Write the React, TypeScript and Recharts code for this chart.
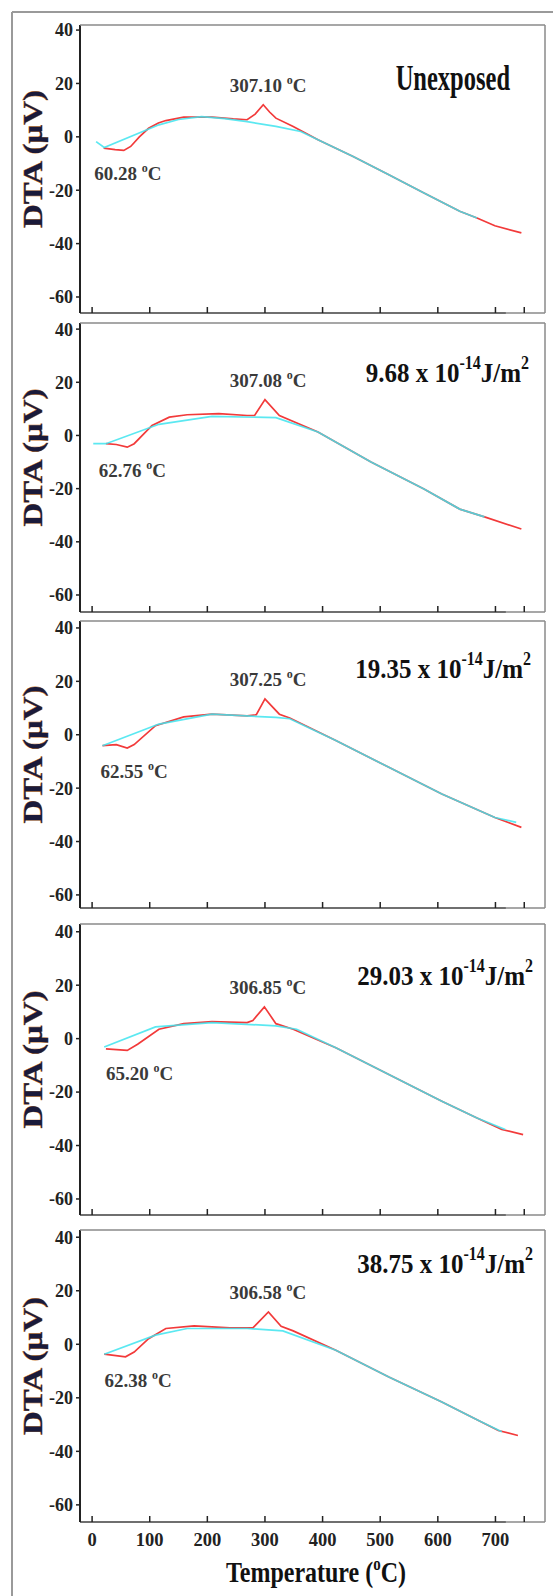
import React from "react";
import { LineChart, Line, XAxis, YAxis, ReferenceDot, ReferenceLine } from "recharts";

const SERIF = "'Liberation Serif', 'Times New Roman', serif";

// [temperature °C, DTA µV]
const unexposedSample = [[20, -4.2], [40, -4.8], [55, -5.1], [67, -3.6], [82, 0], [98, 3.2], [115, 5.2], [128, 6.1], [159, 7.4], [208, 7.4], [245, 6.7], [269, 6.4], [283, 8.5], [297, 12.0], [308, 9.3], [319, 7.0], [349, 3.9], [392, -1.1], [453, -7.4], [515, -14.2], [576, -21], [638, -27.9], [668, -30.4], [699, -33.3], [745, -36.0]];
const unexposedBase = [[7, -1.8], [21, -4.0], [116, 4.5], [150, 6.5], [190, 7.6], [230, 6.8], [269, 5.7], [319, 3.9], [362, 2.0], [392, -1.1], [453, -7.4], [515, -14.2], [576, -21], [638, -27.9], [668, -30.4]];

const dose968Sample = [[24, -3.1], [42, -3.4], [61, -4.4], [73, -3.1], [104, 3.8], [134, 6.9], [165, 7.8], [220, 8.2], [269, 7.5], [282, 7.5], [300, 13.5], [325, 7.5], [392, 1.3], [484, -10], [576, -20.1], [638, -27.7], [681, -30.6], [745, -35.2]];
const dose968Base = [[2, -3.1], [24, -3.1], [116, 4.2], [208, 7.2], [319, 6.7], [392, 1.3], [484, -10], [576, -20.1], [638, -27.7], [681, -30.6]];

const dose1935Sample = [[18, -4.1], [42, -3.7], [61, -5.0], [73, -3.7], [110, 3.4], [159, 6.7], [208, 7.7], [269, 7.1], [285, 7.5], [300, 13.4], [325, 7.7], [343, 6.3], [423, -2.2], [515, -12.2], [607, -22.2], [699, -31], [745, -34.7]];
const dose1935Base = [[18, -4.1], [116, 4.0], [208, 7.7], [319, 6.5], [343, 6.0], [423, -2.2], [515, -12.2], [607, -22.2], [699, -31], [736, -32.8]];

const dose2903Sample = [[24, -3.8], [61, -4.4], [79, -2.1], [116, 3.5], [159, 5.6], [208, 6.4], [269, 6.0], [279, 6.8], [299, 11.9], [319, 5.6], [349, 3.5], [423, -3.4], [515, -13.4], [607, -23.4], [668, -29.7], [711, -34], [748, -35.9]];
const dose2903Base = [[21, -3.1], [110, 4.4], [208, 6.0], [319, 4.8], [355, 3.5], [423, -3.4], [515, -13.4], [607, -23.4], [668, -29.7], [717, -34]];

const dose3875Sample = [[21, -3.7], [58, -4.7], [73, -2.9], [98, 2.1], [128, 5.9], [177, 6.9], [239, 6.1], [279, 6.1], [306, 12.1], [328, 6.7], [349, 5.0], [423, -2.2], [515, -12.2], [607, -21.6], [668, -28.2], [705, -32.2], [739, -34.1]];
const dose3875Base = [[21, -3.7], [110, 3.4], [165, 5.9], [269, 5.9], [331, 5.0], [423, -2.2], [515, -12.2], [607, -21.6], [668, -28.2], [711, -32.7]];

const titles = ["Unexposed", "9.68", "19.35", "29.03", "38.75"];
const peakTemps = ["307.10", "307.08", "307.25", "306.85", "306.58"];
const peakDta = [12.0, 13.5, 13.4, 11.9, 12.1];
const dipTemps = ["60.28", "62.76", "62.55", "65.20", "62.38"];
const dipDta = [-5.1, -4.4, -5.0, -4.4, -4.7];

const xTicks = [0, 100, 200, 300, 400, 500, 600, 700, 750];
const yTicks = [-60, -40, -20, 0, 20, 40];

const samples = [unexposedSample, dose968Sample, dose1935Sample, dose2903Sample, dose3875Sample];
const baselines = [unexposedBase, dose968Base, dose1935Base, dose2903Base, dose3875Base];

// plot box placement on the page
const layout = [
  { top: 25, bottom: 313, yMin: -66, yMax: 41.9, titleY: 65, titleX: 510, dipDx: 2 },
  { top: 323, bottom: 612, yMin: -66.4, yMax: 42.3, titleY: 59, titleX: 529, dipDx: 5 },
  { top: 621, bottom: 908, yMin: -64.9, yMax: 42.6, titleY: 57, titleX: 531, dipDx: 7 },
  { top: 924, bottom: 1215, yMin: -66, yMax: 42.9, titleY: 61, titleX: 533, dipDx: 11 },
  { top: 1230, bottom: 1522, yMin: -66.4, yMax: 42.7, titleY: 43, titleX: 533, dipDx: 11 },
];
const X_MIN = -21;
const X_MAX = 786;
const PLOT_LEFT = 80;
const PLOT_RIGHT = 545;
const W = 553;

const toPts = (arr: number[][]) => arr.map(([t, v]) => ({ t, v }));

function DegText({ x, y, value }: { x: number; y: number; value: string }) {
  return (
    <text x={x} y={y} textAnchor="middle" fontFamily={SERIF} fontSize={19} fontWeight="bold" fill="#3a3a3a">
      {value + " "}
      <tspan dy={-8} fontSize={12}>o</tspan>
      <tspan dy={8}>C</tspan>
    </text>
  );
}

function YTitle({ viewBox }: any) {
  const cy = viewBox.y + viewBox.height / 2 - 10;
  return (
    <text
      transform={`translate(33, ${cy}) rotate(-90) scale(1.22, 1)`}
      textAnchor="middle"
      dominantBaseline="central"
      fontFamily={SERIF}
      fontSize={27}
      fontWeight="bold"
      fill="#1a1a3a"
      stroke="#c8741e"
      strokeWidth={0.6}
      paintOrder="stroke"
    >
      DTA (μV)
    </text>
  );
}

function Panel({ i }: { i: number }) {
  const p = layout[i];
  const last = i === 4;
  const xAxisH = last ? 34 : 4;
  const plotH = p.bottom - p.top;
  return (
    <div style={{ position: "absolute", left: 0, top: p.top - 10 }}>
      <LineChart width={W} height={plotH + 10 + xAxisH} margin={{ top: 10, right: W - PLOT_RIGHT, bottom: 0, left: 0 }}>
        <XAxis
          type="number"
          dataKey="t"
          domain={[X_MIN, X_MAX]}
          ticks={xTicks}
          allowDataOverflow
          height={xAxisH}
          tickSize={-6}
          tickMargin={17}
          axisLine={{ stroke: "#8a8a8a", strokeWidth: 1.5 }}
          tickLine={{ stroke: "#222", strokeWidth: 1.5 }}
          tickFormatter={(v: number) => (v === 750 ? "" : String(v))}
          tick={last ? { fontSize: 18.5, fontWeight: "bold", fill: "#222", fontFamily: SERIF } : () => <g />}
        />
        <YAxis
          type="number"
          domain={[p.yMin, p.yMax]}
          ticks={yTicks}
          allowDataOverflow
          width={PLOT_LEFT}
          tickSize={4}
          tickMargin={3}
          axisLine={{ stroke: "#222", strokeWidth: 2 }}
          tickLine={{ stroke: "#222", strokeWidth: 1.5 }}
          tick={{ fontSize: 18, fontWeight: "bold", fill: "#222", fontFamily: SERIF }}
          label={{ content: (props: any) => <YTitle viewBox={props.viewBox} /> }}
        />
        <ReferenceLine
          segment={[{ x: X_MIN, y: p.yMin }, { x: 718, y: p.yMin }]}
          stroke="#222"
          strokeWidth={2}
          ifOverflow="visible"
        />
        <Line data={toPts(samples[i])} dataKey="v" type="linear" stroke="#f23a3a" strokeWidth={1.7} dot={false} isAnimationActive={false} />
        <Line data={toPts(baselines[i])} dataKey="v" type="linear" stroke="#3ee4ee" strokeWidth={1.7} strokeOpacity={0.85} dot={false} isAnimationActive={false} />
        <ReferenceDot
          x={parseFloat(peakTemps[i])}
          y={peakDta[i]}
          r={1}
          fill="none"
          stroke="none"
          label={{ content: (props: any) => <DegText x={props.viewBox.x} y={props.viewBox.y - 12} value={peakTemps[i]} /> }}
        />
        <ReferenceDot
          x={parseFloat(dipTemps[i])}
          y={dipDta[i]}
          r={1}
          fill="none"
          stroke="none"
          label={{ content: (props: any) => <DegText x={props.viewBox.x + p.dipDx} y={props.viewBox.y + 31} value={dipTemps[i]} /> }}
        />
      </LineChart>
    </div>
  );
}

function Title({ i }: { i: number }) {
  const p = layout[i];
  const x = p.titleX;
  const y = p.top + p.titleY;
  if (i === 0) {
    return (
      <text transform={`translate(${x}, ${y}) scale(1, 1.5)`} textAnchor="end" fontFamily={SERIF} fontSize={24.5} fontWeight="bold" fill="#111">
        Unexposed
      </text>
    );
  }
  return (
    <text transform={`translate(${x}, ${y}) scale(1, 1.12)`} textAnchor="end" fontFamily={SERIF} fontSize={25} fontWeight="bold" fill="#111">
      {titles[i] + " x 10"}
      <tspan dy={-12} fontSize={16}>-14</tspan>
      <tspan dy={12}>J/m</tspan>
      <tspan dy={-12} fontSize={16}>2</tspan>
    </text>
  );
}

export default function App() {
  return (
    <div style={{ position: "absolute", left: 0, top: 0, width: W, height: 1596, background: "#fff", overflow: "hidden" }}>
      {[0, 1, 2, 3, 4].map((i) => (
        <Panel key={i} i={i} />
      ))}
      <svg width={W} height={1596} style={{ position: "absolute", left: 0, top: 0, pointerEvents: "none" }}>
        <line x1={12} y1={12} x2={12} y2={1596} stroke="#9a9a9a" strokeWidth={2} />
        <line x1={12} y1={12} x2={W} y2={12} stroke="#9a9a9a" strokeWidth={2} />
        {layout.map((p, i) => (
          <g key={i}>
            <line x1={PLOT_LEFT} y1={p.top} x2={PLOT_RIGHT} y2={p.top} stroke="#8a8a8a" strokeWidth={1.5} />
            <line x1={PLOT_RIGHT} y1={p.top} x2={PLOT_RIGHT} y2={p.bottom} stroke="#8a8a8a" strokeWidth={1.5} />
            <Title i={i} />
          </g>
        ))}
        <text transform="translate(316, 1582) scale(1, 1.24)" textAnchor="middle" fontFamily={SERIF} fontSize={24} fontWeight="bold" fill="#111">
          {"Temperature  ("}
          <tspan dy={-10} fontSize={15}>o</tspan>
          <tspan dy={10}>C)</tspan>
        </text>
      </svg>
    </div>
  );
}
